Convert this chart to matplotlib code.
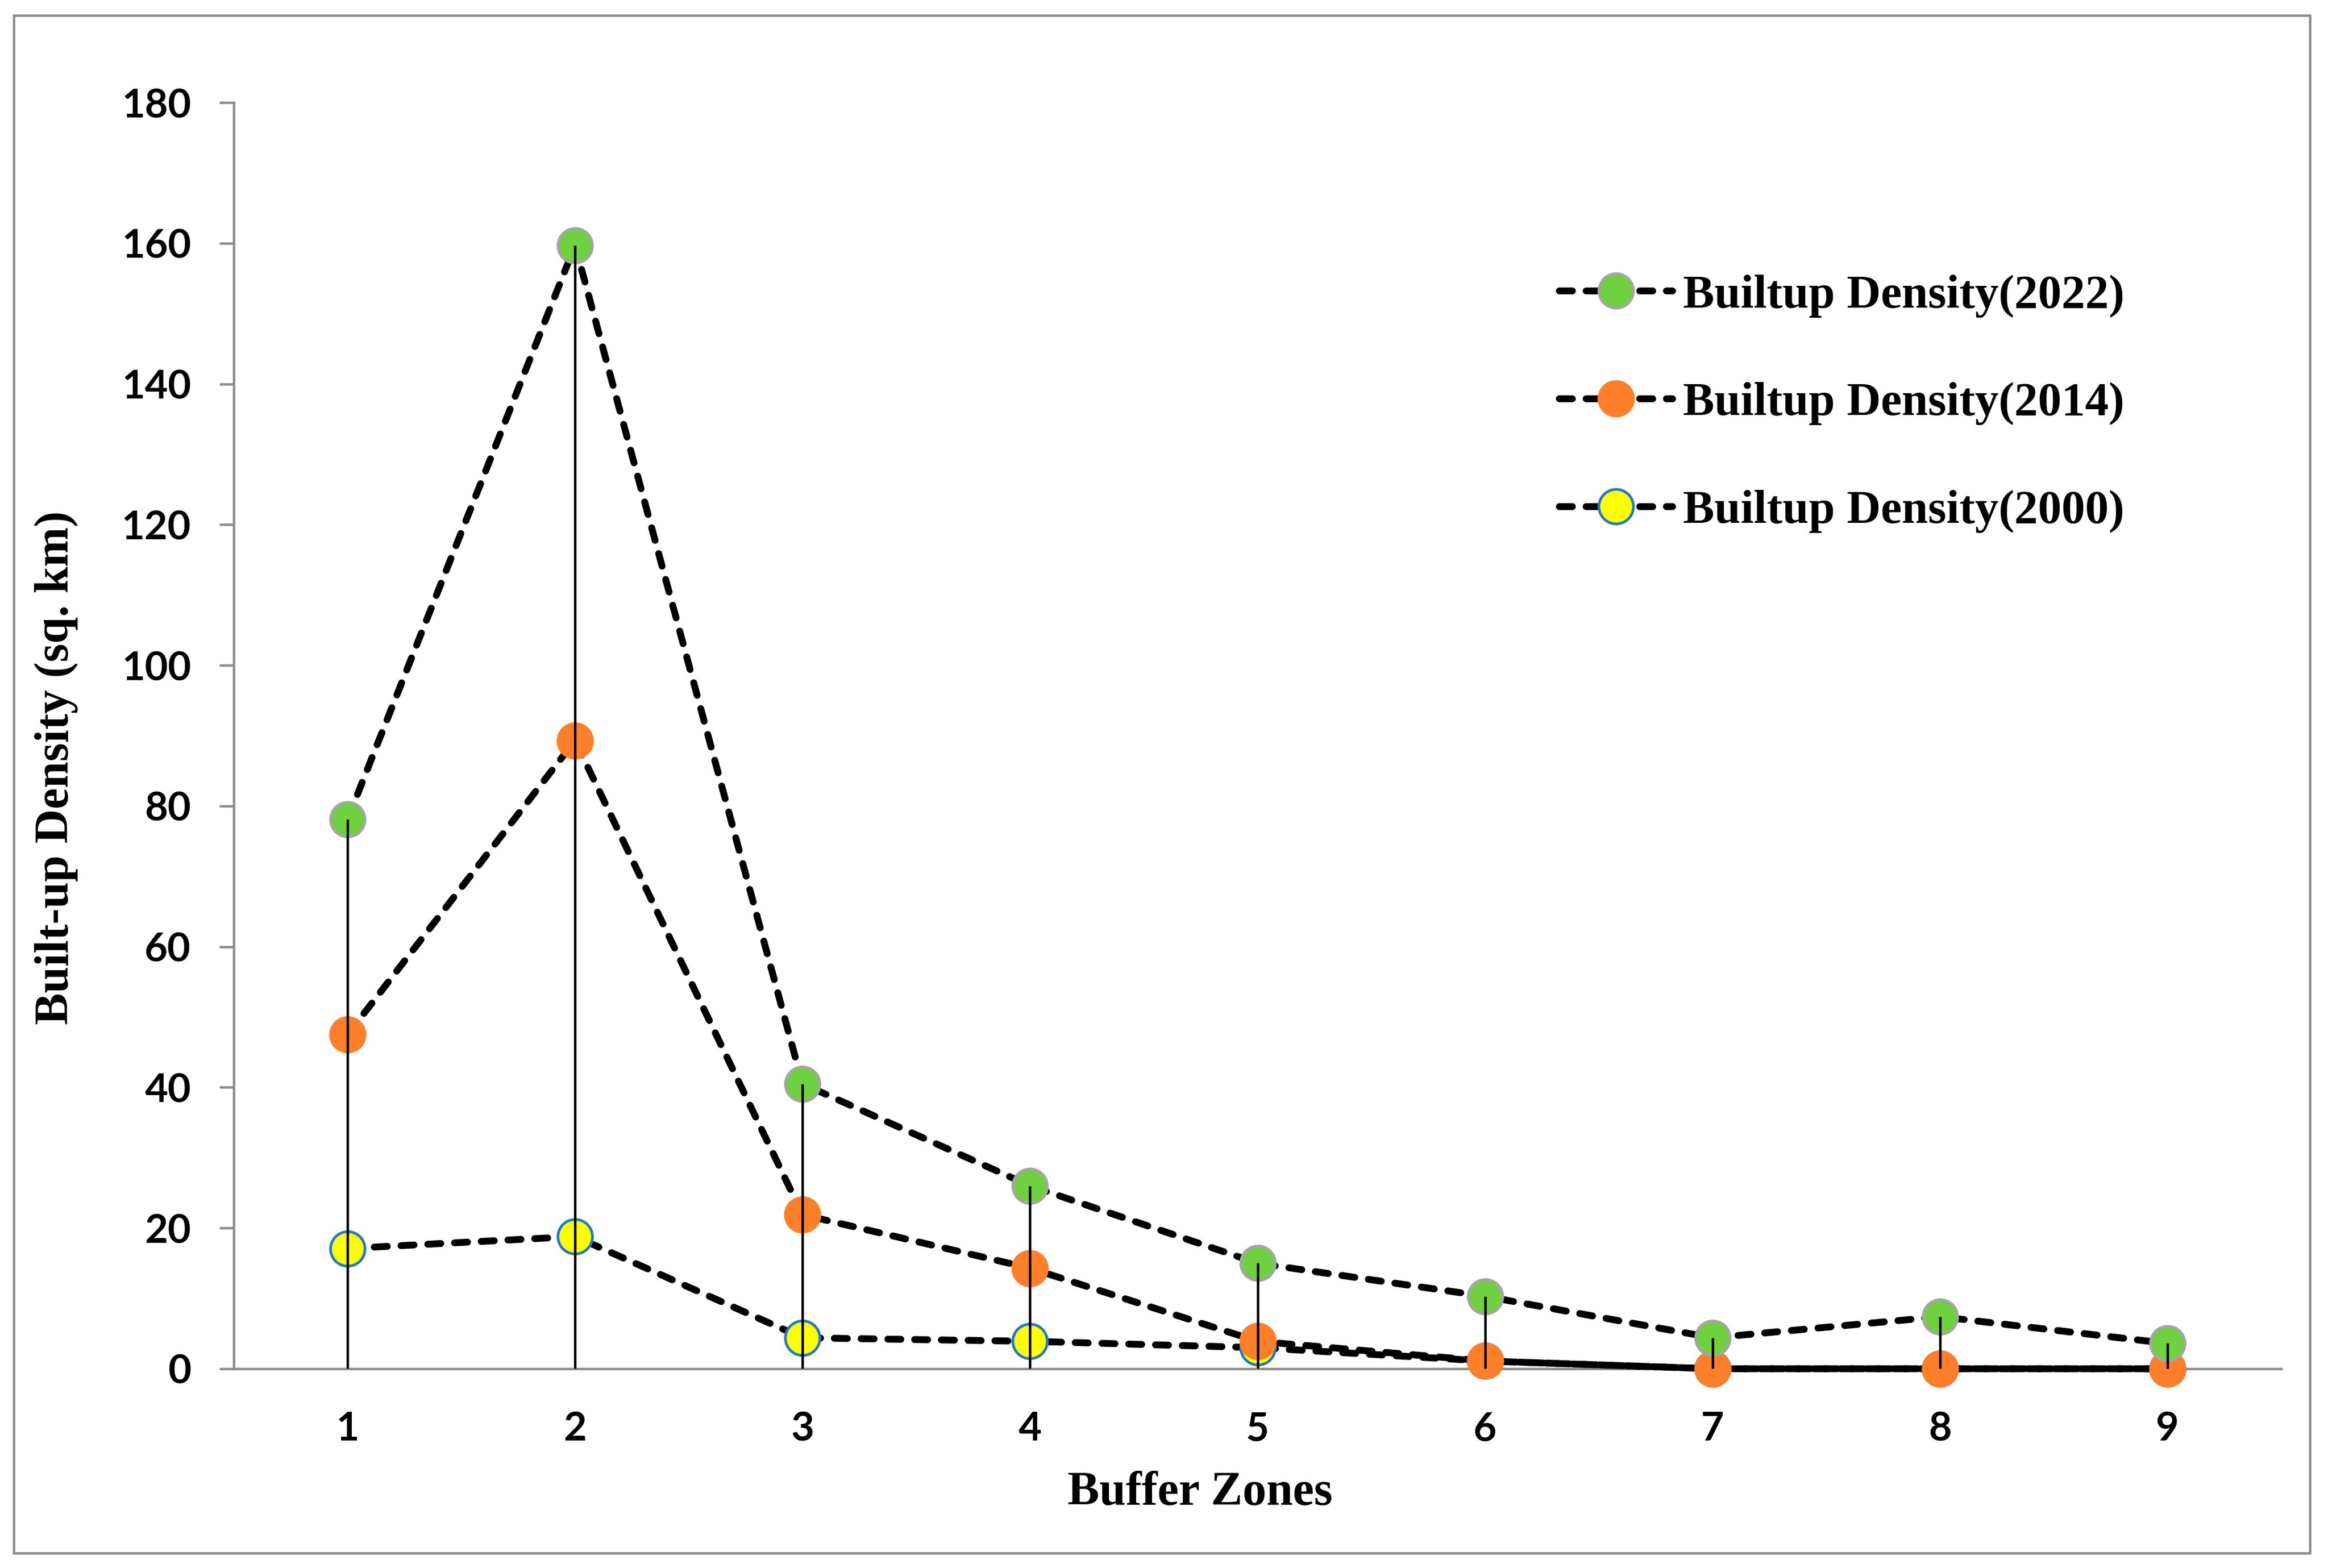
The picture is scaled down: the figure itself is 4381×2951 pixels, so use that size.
import numpy as np
import matplotlib
matplotlib.use("Agg")
import matplotlib.pyplot as plt
from matplotlib.patches import Rectangle

# buffer zones and built-up density (sq. km) per year
zones = [1, 2, 3, 4, 5, 6, 7, 8, 9]
density_2022 = [78.1, 159.7, 40.5, 26.0, 15.0, 10.3, 4.4, 7.4, 3.6]
density_2014 = [47.5, 89.3, 21.9, 14.3, 3.9, 1.1, 0.0, 0.0, 0.0]
density_2000 = [17.1, 18.8, 4.4, 3.9, 3.0, 1.1, 0.0, 0.0, 0.0]
y_ticks = [0, 20, 40, 60, 80, 100, 120, 140, 160, 180]

SERIF = "Liberation Serif"
SANS = "Lato"
GRAY = "#8c8c8c"

fig = plt.figure(figsize=(4381 / 300, 2951 / 300), dpi=300)
ax = fig.add_axes([440 / 4381, 1 - 2576 / 2951, (4293 - 440) / 4381, (2576 - 193) / 2951])

line_kw = dict(color="black", lw=3.1, ls=(0, (1.9, 2.0)), dash_capstyle="round",
               marker="o", ms=15.6, mew=1.2, clip_on=False)

ax.plot(zones, density_2000, mfc="#ffff00", mec="#1f78d0", zorder=3,
        label="Builtup Density(2000)", **line_kw)
ax.plot(zones, density_2014, mfc="#fe7f2a", mec="#fe7f2a", zorder=4,
        label="Builtup Density(2014)", **line_kw)
ax.plot(zones, density_2022, mfc="#6fd040", mec="#a5a5a5", zorder=5,
        label="Builtup Density(2022)", **line_kw)

# drop lines from the highest series down to the axis
tops = np.maximum.reduce([density_2022, density_2014, density_2000])
ax.vlines(zones, 0, tops, color="black", lw=1.1, zorder=6)

ax.set_xlim(0.5, 9.5)
ax.set_ylim(0, 180)
ax.set_xticks(zones)
ax.set_yticks(y_ticks)
for s in ["top", "right"]:
    ax.spines[s].set_visible(False)
for s in ["left", "bottom"]:
    ax.spines[s].set_color(GRAY)
    ax.spines[s].set_linewidth(1.1)
    ax.spines[s].set_zorder(2)
ax.tick_params(axis="y", length=6.4, width=1.1, color=GRAY, pad=13)
ax.tick_params(axis="x", length=0, pad=19)
for lab in ax.get_xticklabels() + ax.get_yticklabels():
    lab.set_fontfamily(SANS)
    lab.set_fontweight("bold")
    lab.set_fontsize(18)

fig.text(2258 / 4381, 1 - 2810 / 2951, "Buffer Zones", family=SERIF, weight="bold",
         fontsize=21.5, ha="center", va="center")
fig.text(106 / 4381, 1 - 1445 / 2951, "Built-up Density (sq. km)", family=SERIF,
         weight="bold", fontsize=21.5, rotation=90, ha="center", va="center")

h, l = ax.get_legend_handles_labels()
leg = fig.legend(h[::-1], l[::-1], loc="upper left", bbox_to_anchor=(2890 / 4381, 1 - 472 / 2951),
                 frameon=False, prop=dict(family=SERIF, weight="bold", size=21.3),
                 handlelength=2.4, handletextpad=0.22, labelspacing=1.37, borderpad=0)

fig.patches.append(Rectangle((26 / 4381, 28 / 2951), (4347 - 26) / 4381, (2922 - 28) / 2951,
                             transform=fig.transFigure, fill=False, ec=GRAY, lw=1.1))

fig.savefig("out.png", dpi=300)
